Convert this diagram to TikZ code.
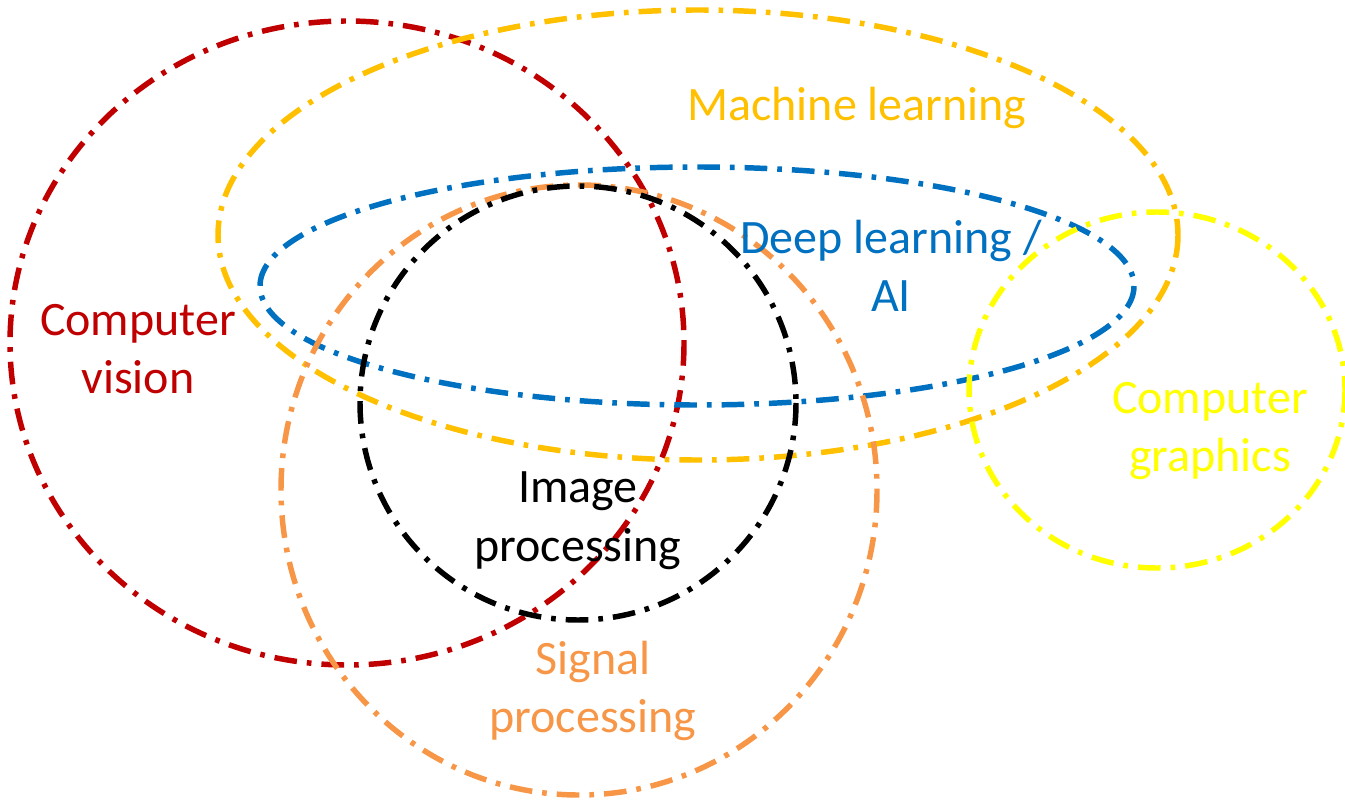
\documentclass[tikz,border=0pt]{standalone}
\usepackage{fontspec}
\setmainfont{Carlito}
\definecolor{cvred}{HTML}{C00000}
\definecolor{mlgold}{HTML}{FFC000}
\definecolor{dlblue}{HTML}{0070C0}
\definecolor{sporange}{HTML}{F79646}
\definecolor{cgyellow}{HTML}{FFFF00}
\tikzset{
  area/.style={line width=4.1pt, dash pattern=on 17pt off 7.5pt on 3.5pt off 7.5pt},
  lbl/.style={font=\fontsize{36}{44}\selectfont, align=center, inner sep=0pt}
}
\begin{document}
\begin{tikzpicture}[x=0.75pt, y=-0.75pt]
  \useasboundingbox (0,0) rectangle (1345,802);
  % subject areas
  \draw[area, cvred]    (347,343) ellipse [x radius=337, y radius=322];
  \draw[area, mlgold]   (698,235) ellipse [x radius=480, y radius=225];
  \draw[area, dlblue]   (697,286) ellipse [x radius=437, y radius=119];
  \draw[area, sporange] (579,490) ellipse [x radius=298, y radius=305];
  \draw[area, black]    (578,403) ellipse [x radius=218, y radius=217];
  \draw[area, cgyellow] (1157,390) ellipse [x radius=188, y radius=178];
  % labels
  \node[lbl, text=mlgold]   (ml) at (857,108) {Machine learning};
  \node[lbl, text=dlblue]   (dl) at (891,266) {Deep learning /\\AI};
  \node[lbl, text=cvred]    (cv) at (138,349) {Computer\\vision};
  \node[lbl, text=black]    (ip) at (578,521) {Image\\processing};
  \node[lbl, text=sporange] (sp) at (593,691) {Signal\\processing};
  \node[lbl, text=cgyellow] (cg) at (1210,431) {Computer\\graphics};
\end{tikzpicture}
\end{document}
